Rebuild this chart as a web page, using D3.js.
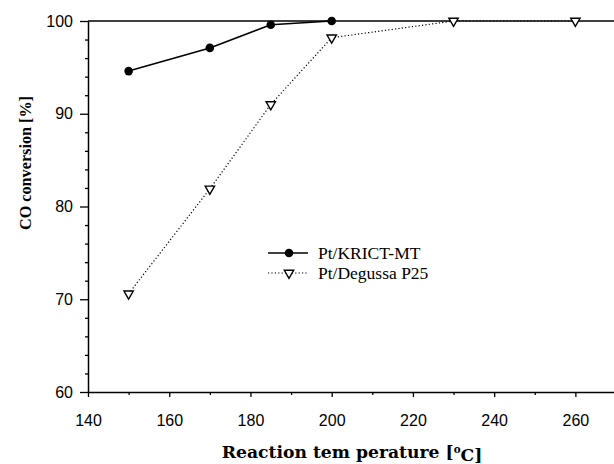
<!DOCTYPE html>
<html>
<head>
<meta charset="utf-8">
<script src="https://cdn.jsdelivr.net/npm/d3@7"></script>
<style>
  body { margin: 0; background: #fff; }
  svg { display: block; }
</style>
</head>
<body>
<div id="chart"></div>
<script>
// temperatures and conversions
const krictTemps = [150, 170, 185, 200]
const krictConv = [94.6, 97.1, 99.6, 100]
const p25Temps = [150, 170, 185, 200, 230, 260]
const p25Conv = [70.6, 81.9, 91.0, 98.2, 100, 100]
const xTicks = [140, 160, 180, 200, 220, 240, 260]
const yTicks = [60, 70, 80, 90, 100]
const seriesNames = ["Pt/KRICT-MT", "Pt/Degussa P25"]

const width = 614, height = 464
const margin = {top: 21, right: -2, bottom: 72, left: 88}

const svg = d3.select("#chart").append("svg")
    .attr("width", width)
    .attr("height", height)

const x = d3.scaleLinear()
    .domain([140, 270])
    .range([margin.left, width - margin.right])

const y = d3.scaleLinear()
    .domain([60, 100])
    .range([height - margin.bottom, margin.top])

const tickFont = "'Liberation Sans', Arial, sans-serif"
const serif = "'Liberation Serif', 'Times New Roman', serif"
const titleFont = "'DejaVu Serif', serif"

// minor ticks first, then major ones on top
svg.append("g")
    .attr("transform", `translate(0,${y(60)})`)
    .call(d3.axisBottom(x).tickValues(d3.range(150, 270, 20)).tickSize(3).tickFormat(""))
    .call(g => g.select(".domain").remove())
    .selectAll("line").attr("stroke-width", 1.3)

svg.append("g")
    .attr("transform", `translate(${x(140)},0)`)
    .call(d3.axisLeft(y).tickValues(d3.range(62, 100, 2).filter(d => d % 10 !== 0)).tickSize(3).tickFormat(""))
    .call(g => g.select(".domain").remove())
    .selectAll("line").attr("stroke-width", 1.3)

const xAxis = svg.append("g")
    .attr("transform", `translate(0,${y(60)})`)
    .call(d3.axisBottom(x).tickValues(xTicks).tickSize(5).tickSizeOuter(0).tickPadding(18))
xAxis.select(".domain").attr("stroke-width", 1.5)
xAxis.selectAll("line").attr("stroke-width", 1.3)
xAxis.selectAll("text")
    .style("font-family", tickFont)
    .style("font-size", "16px")
    .attr("fill", "#000")

const yAxis = svg.append("g")
    .attr("transform", `translate(${x(140)},0)`)
    .call(d3.axisLeft(y).tickValues(yTicks).tickSize(8).tickSizeOuter(0).tickPadding(7))
yAxis.select(".domain").attr("stroke-width", 1.5)
yAxis.selectAll("line").attr("stroke-width", 1.3)
yAxis.selectAll("text")
    .style("font-family", tickFont)
    .style("font-size", "16px")
    .attr("fill", "#000")

// top frame line
svg.append("line")
    .attr("x1", x(140)).attr("x2", width)
    .attr("y1", y(100)).attr("y2", y(100))
    .attr("stroke", "#000")
    .attr("stroke-width", 1.5)

const line = d3.line().x(d => x(d[0])).y(d => y(d[1]))
const krict = d3.zip(krictTemps, krictConv)
const p25 = d3.zip(p25Temps, p25Conv)

svg.append("path")
    .datum(p25)
    .attr("d", line)
    .attr("fill", "none")
    .attr("stroke", "#000")
    .attr("stroke-width", 1.2)
    .attr("stroke-dasharray", "1.2,2.2")

svg.append("path")
    .datum(krict)
    .attr("d", line)
    .attr("fill", "none")
    .attr("stroke", "#000")
    .attr("stroke-width", 1.6)

const tri = d3.symbol().type(d3.symbolTriangle).size(38)

svg.selectAll(".p25")
    .data(p25)
    .join("path")
    .attr("class", "p25")
    .attr("d", tri)
    .attr("transform", d => `translate(${x(d[0])},${y(d[1])}) rotate(180)`)
    .attr("fill", "#fff")
    .attr("stroke", "#000")
    .attr("stroke-width", 1.4)

svg.selectAll(".krict")
    .data(krict)
    .join("circle")
    .attr("class", "krict")
    .attr("cx", d => x(d[0]))
    .attr("cy", d => y(d[1]))
    .attr("r", 4.3)
    .attr("fill", "#000")

// legend
const legend = svg.append("g").attr("transform", "translate(268,253)")
const rows = legend.selectAll("g")
    .data(seriesNames)
    .join("g")
    .attr("transform", (d, i) => `translate(0,${i * 20})`)

rows.append("line")
    .attr("x1", 0).attr("x2", 40)
    .attr("stroke", "#000")
    .attr("stroke-width", (d, i) => i === 0 ? 1.6 : 1.2)
    .attr("stroke-dasharray", (d, i) => i === 0 ? null : "1.2,2.2")

rows.each(function (d, i) {
    const g = d3.select(this)
    if (i === 0) {
        g.append("circle").attr("cx", 21).attr("r", 4.3).attr("fill", "#000")
    } else {
        g.append("path").attr("d", tri)
            .attr("transform", "translate(21,0) rotate(180)")
            .attr("fill", "#fff").attr("stroke", "#000").attr("stroke-width", 1.4)
    }
})

rows.append("text")
    .attr("x", 50)
    .attr("dy", "0.33em")
    .style("font-family", serif)
    .style("font-size", "17.5px")
    .text(d => d)

// shrink or grow a title so that it spans the same length as in the figure
function fitTo(sel, target) {
    const size = parseFloat(sel.style("font-size"))
    const len = sel.node().getComputedTextLength()
    sel.style("font-size", (size * target / len).toFixed(2) + "px")
}

// axis titles
const xTitle = svg.append("text")
    .attr("x", 352)
    .attr("y", 458)
    .attr("text-anchor", "middle")
    .style("font-family", titleFont)
    .style("font-weight", "bold")
    .style("font-size", "16px")
xTitle.append("tspan").text("Reaction tem perature [")
xTitle.append("tspan").attr("dy", "-0.45em").style("font-size", "0.6em").text("o")
xTitle.append("tspan").attr("dy", "0.45em").text("C]")
fitTo(xTitle, 261)

const yTitle = svg.append("text")
    .attr("transform", "translate(31,163) rotate(-90)")
    .attr("text-anchor", "middle")
    .style("font-family", serif)
    .style("font-weight", "bold")
    .style("font-size", "17px")
    .text("CO conversion [%]")
fitTo(yTitle, 134)
</script>
</body>
</html>
